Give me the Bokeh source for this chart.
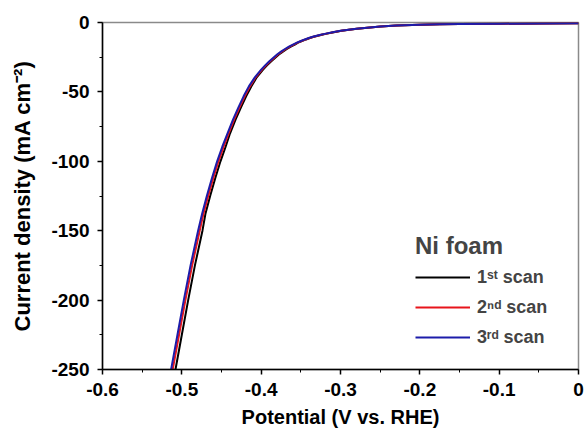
from bokeh.plotting import figure
from bokeh.models import Range1d, FixedTicker, Legend, LegendItem
from bokeh.embed import file_html
from bokeh.resources import INLINE

# Current density (mA cm^-2), shared sampling of the three scans
current = [-250, -225, -200, -175, -150, -138, -125, -112, -100, -89.5,
           -80, -70, -61, -53, -46, -39.5, -34, -30.9, -28.1, -25.5,
           -23.1, -21.0, -19.1, -17.4, -15.9, -14.5, -13.3, -12.2, -11.2, -10.3,
           -9.5, -8.8, -8.2, -7.0, -6.0, -5.2, -4.5, -3.9, -3.4, -2.95,
           -2.6, -2.25, -2.0, -1.75, -1.55, -1.25, -1.05, -0.85, -0.7, -0.6]

# Potential (V vs. RHE) for each scan
pot_scan1 = [-0.508, -0.5, -0.492, -0.4835, -0.474,
             -0.4703, -0.4643, -0.4578, -0.4513, -0.4448,
             -0.4393, -0.4323, -0.4253, -0.4188, -0.4123,
             -0.4056, -0.3976, -0.3926, -0.3876, -0.3826,
             -0.3776, -0.3726, -0.3676, -0.3626, -0.3576,
             -0.3535, -0.3485, -0.3435, -0.3385, -0.3335,
             -0.3285, -0.3235, -0.3185, -0.3085, -0.2985,
             -0.2892, -0.2792, -0.2692, -0.2592, -0.2492,
             -0.2392, -0.2292, -0.2192, -0.2092, -0.1992,
             -0.175, -0.150, -0.100, -0.050, 0.0]
pot_scan2 = [-0.5115, -0.5035, -0.4955, -0.487, -0.4775,
             -0.4728, -0.4668, -0.4603, -0.4538, -0.4473,
             -0.4411, -0.4341, -0.4271, -0.4206, -0.4141,
             -0.4069, -0.3989, -0.3939, -0.3889, -0.3839,
             -0.3789, -0.3739, -0.3689, -0.3639, -0.3589,
             -0.3542, -0.3492, -0.3442, -0.3392, -0.3342,
             -0.3292, -0.3242, -0.3192, -0.3092, -0.2992,
             -0.2895, -0.2795, -0.2695, -0.2595, -0.2495,
             -0.2395, -0.2295, -0.2195, -0.2095, -0.1995,
             -0.175, -0.150, -0.100, -0.050, 0.0]
pot_scan3 = [-0.5135, -0.5055, -0.4975, -0.489, -0.4795,
             -0.4745, -0.4685, -0.462, -0.4555, -0.449,
             -0.4425, -0.4355, -0.4285, -0.422, -0.4155,
             -0.408, -0.400, -0.395, -0.390, -0.385,
             -0.380, -0.375, -0.370, -0.365, -0.360,
             -0.355, -0.350, -0.345, -0.340, -0.335,
             -0.330, -0.325, -0.320, -0.310, -0.300,
             -0.290, -0.280, -0.270, -0.260, -0.250,
             -0.240, -0.230, -0.220, -0.210, -0.200,
             -0.175, -0.150, -0.100, -0.050, 0.0]

scan_labels = ["1\u02e2\u1d57 scan", "2\u207f\u1d48 scan", "3\u02b3\u1d48 scan"]
scan_colors = ["#000000", "#e8141b", "#1c1caa"]

x_ticks = [-0.6, -0.5, -0.4, -0.3, -0.2, -0.1, 0.0]
x_tick_labels = ["-0.6", "-0.5", "-0.4", "-0.3", "-0.2", "-0.1", "0"]
x_minor = [-0.55, -0.45, -0.35, -0.25, -0.15, -0.05]
y_ticks = [-250, -200, -150, -100, -50, 0]
y_tick_labels = ["-250", "-200", "-150", "-100", "-50", "0"]
y_minor = [-225, -175, -125, -75, -25]

FONT = "Liberation Sans"

p = figure(width=587, height=434, output_backend="svg", toolbar_location=None,
           x_range=Range1d(-0.6, 0.0), y_range=Range1d(-250, 0),
           min_border_left=102, min_border_top=22, min_border_right=9,
           min_border_bottom=65)
p.grid.visible = False
p.outline_line_color = "#8a8a8a"
p.outline_line_width = 1.5
p.background_fill_color = "white"
p.border_fill_color = "white"

renderers = []
for pots, col in zip([pot_scan1, pot_scan2, pot_scan3], scan_colors):
    r = p.line(pots, current, line_color=col, line_width=2)
    renderers.append(r)

p.xaxis.ticker = FixedTicker(ticks=x_ticks, minor_ticks=x_minor)
p.xaxis.major_label_overrides = dict(zip(x_ticks, x_tick_labels))
p.yaxis.ticker = FixedTicker(ticks=y_ticks, minor_ticks=y_minor)
p.yaxis.major_label_overrides = dict(zip(y_ticks, y_tick_labels))

p.xaxis.axis_label = "Potential (V vs. RHE)"
p.yaxis.axis_label = "Current density (mA cm\u207b\u00b2)"

for ax in (p.xaxis, p.yaxis):
    ax.axis_line_color = "black"
    ax.axis_line_width = 1.5
    ax.major_tick_line_color = "black"
    ax.major_tick_line_width = 1.5
    ax.minor_tick_line_color = "black"
    ax.minor_tick_line_width = 1
    ax.major_tick_in = 0
    ax.major_tick_out = 5
    ax.minor_tick_in = 0
    ax.minor_tick_out = 3
    ax.major_label_text_font = FONT
    ax.major_label_text_font_style = "bold"
    ax.major_label_text_font_size = "19px"
    ax.major_label_text_color = "black"
    ax.axis_label_text_font = FONT
    ax.axis_label_text_font_style = "bold"
    ax.axis_label_text_color = "black"

p.xaxis.major_label_standoff = 8
p.xaxis.axis_label_text_font_size = "20px"
p.xaxis.axis_label_standoff = 7
p.yaxis.major_label_standoff = 8
p.yaxis.axis_label_text_font_size = "22px"
p.yaxis.axis_label_standoff = 13

items = [LegendItem(label=lab, renderers=[r]) for lab, r in zip(scan_labels, renderers)]
legend = Legend(items=items, title="Ni foam", location=(313, 20),
                title_text_font=FONT, title_text_font_style="bold",
                title_text_font_size="24px", title_standoff=5,
                label_text_font=FONT, label_text_font_style="bold",
                label_text_font_size="18px", label_standoff=7,
                glyph_width=55, glyph_height=24, label_height=24, spacing=6,
                padding=0, margin=0, border_line_alpha=0, background_fill_alpha=0)
p.add_layout(legend)

open("out.html", "w").write(file_html(p, INLINE))
